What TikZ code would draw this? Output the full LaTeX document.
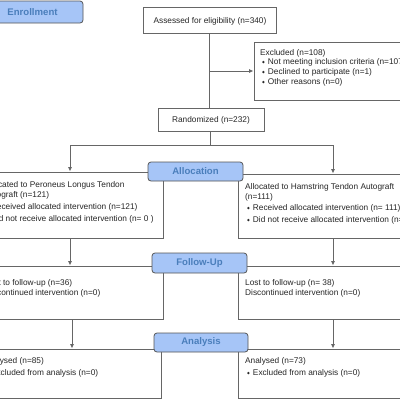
\documentclass[tikz,border=0pt]{standalone}
\usepackage{fontspec}
\setmainfont{Liberation Sans}
\newfontfamily\symfont{DejaVu Sans}
\usetikzlibrary{arrows.meta,fit}
\definecolor{linec}{HTML}{666666}
\definecolor{lblfill}{HTML}{A6C5F7}
\definecolor{lbltext}{HTML}{4A7EBB}
\definecolor{lbldraw}{HTML}{555555}
\newcommand\bul{\raisebox{0.6pt}{\symfont\fontsize{3.6}{4}\selectfont ◆}\hspace{3pt}}
\tikzset{
  box/.style={draw=linec, line width=0.9pt, fill=white, inner sep=0pt},
  lbl/.style={draw=lbldraw, line width=0.8pt, fill=lblfill, rounded corners=3pt,
    text=lbltext, font=\bfseries\fontsize{9.6}{11}\selectfont, inner sep=0pt},
  txt/.style={font=\fontsize{8.3}{10}\selectfont, anchor=base west, inner sep=0pt, text=black!85},
  conn/.style={draw=linec, line width=0.9pt},
  arr/.style={conn, -{Latex[length=4.5pt,width=4pt]}}
}
\begin{document}
\begin{tikzpicture}[x=1pt,y=-1pt]
\useasboundingbox (0,0) rectangle (400,400);
\clip (0,0) rectangle (400,400);
\fill[white] (0,0) rectangle (400,400);
% boxes
\node[box, fit={(143,7) (276,33)}] (assess) {};
\node[box, fit={(254,42) (420,100)}] (excl) {};
\node[box, fit={(158,108) (264,131)}] (rand) {};
\node[box, fit={(-23,172) (163,238)}] (allocL) {};
\node[box, fit={(238,174) (428,238)}] (allocR) {};
\node[box, fit={(-23,266) (163,319)}] (fuL) {};
\node[box, fit={(238,266) (428,319)}] (fuR) {};
\node[box, fit={(-23,349) (161,398)}] (anL) {};
\node[box, fit={(238,349) (428,398)}] (anR) {};
% connectors
\coordinate (split) at (210,145);
\coordinate (fuLout) at ([xshift=2pt]fuL.south);
\draw[conn] (assess.south) -- (rand.north -| assess.south);
\draw[arr] (assess.south |- excl.west) -- (excl.west);
\draw[conn] (rand.south -| split) -- (split);
\draw[arr] (split) -| (allocL.north);
\draw[arr] (split) -| (allocR.north);
\draw[arr] (allocL.south) -- (fuL.north -| allocL.south);
\draw[arr] (allocR.south) -- (fuR.north -| allocR.south);
\draw[arr] (fuLout) -- (anL.north -| fuLout);
\draw[arr] (fuR.south) -- (anR.north -| fuR.south);
% labels
\node[lbl, minimum width=101pt, minimum height=22pt] (enroll) at (32.5,12) {Enrollment};
\node[lbl, minimum width=95pt, minimum height=19pt] (allocLbl) at (195.5,171.5) {Allocation};
\node[lbl, minimum width=95pt, minimum height=20pt] (fuLbl) at (199.5,263) {Follow-Up};
\node[lbl, minimum width=94pt, minimum height=19pt] (anLbl) at (201,342.5) {Analysis};
% texts
\node[txt, anchor=base] (tAssess) at (210,23) {Assessed for eligibility (n=340)};
\node[txt] (tEx1) at (260,55) {Excluded (n=108)};
\node[txt] (tEx2) at (262,64) {\bul Not meeting inclusion criteria (n=107)};
\node[txt] (tEx3) at (262,74) {\bul Declined to participate (n=1)};
\node[txt] (tEx4) at (262,84) {\bul Other reasons (n=0)};
\node[txt, anchor=base] (tRand) at (211,122) {Randomized (n=232)};
\node[txt] (tAL1) at (-16,187) {Allocated to Peroneus Longus Tendon};
\node[txt] (tAL2) at (-16,197) {Autograft (n=121)};
\node[txt] (tAL3) at (-15,209) {\bul Received allocated intervention (n=121)};
\node[txt] (tAL4) at (-15,221) {\bul Did not receive allocated intervention (n= 0 )};
\node[txt] (tAR1) at (245,189) {Allocated to Hamstring Tendon Autograft};
\node[txt] (tAR2) at (245,199) {(n=111)};
\node[txt] (tAR3) at (247,210) {\bul Received allocated intervention (n= 111)};
\node[txt] (tAR4) at (247,222) {\bul Did not receive allocated intervention (n= 0 )};
\node[txt] (tFL1) at (-15,285) {Lost to follow-up (n=36)};
\node[txt] (tFL2) at (-15,295) {Discontinued intervention (n=0)};
\node[txt] (tFR1) at (245,285) {Lost to follow-up (n= 38)};
\node[txt] (tFR2) at (245,295) {Discontinued intervention (n=0)};
\node[txt] (tNL1) at (-17,363) {Analysed (n=85)};
\node[txt] (tNL2) at (-15,375) {\bul Excluded from analysis (n=0)};
\node[txt] (tNR1) at (245,363) {Analysed (n=73)};
\node[txt] (tNR2) at (247,375) {\bul Excluded from analysis (n=0)};
\end{tikzpicture}
\end{document}
